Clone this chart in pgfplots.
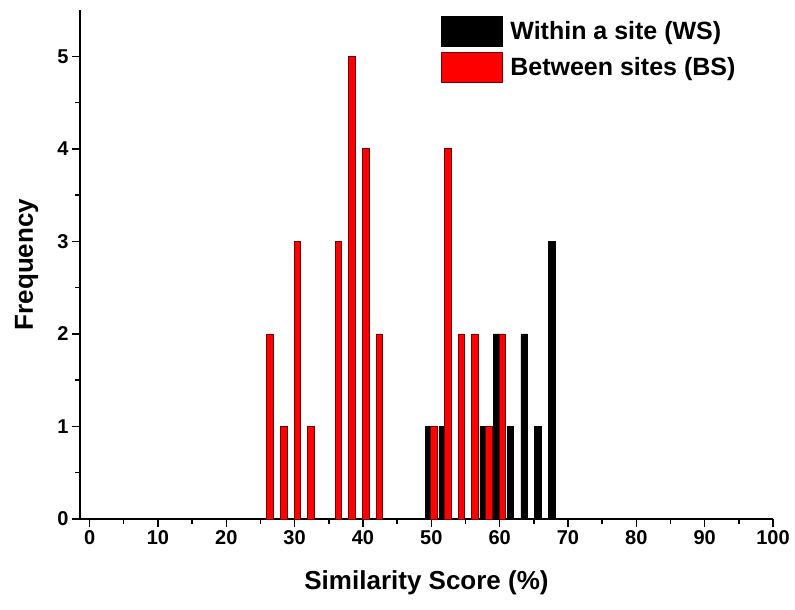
\documentclass[border=0pt]{standalone}
\usepackage{pgfplots}
\pgfplotsset{compat=1.18}
\usepackage{fontspec}
\setmainfont{Liberation Sans}
\definecolor{bsred}{RGB}{255,0,0}
\definecolor{bsedge}{RGB}{110,0,0}
\begin{document}
\begin{tikzpicture}
\begin{axis}[
scale only axis,
width=693pt,
height=509pt,
xmin=-1.4, xmax=100,
ymin=0, ymax=5.5,
axis x line*=bottom,
axis y line*=left,
axis line style={line width=1.5pt},
tick align=outside,
xtick={0,10,...,100},
ytick={0,1,...,5},
minor x tick num=1,
minor y tick num=1,
major tick length=8pt,
minor tick length=5pt,
every tick/.style={black, line width=1.5pt},
/pgf/number format/assume math mode=true,
ticklabel style={font=\bfseries\fontsize{20}{24}\selectfont},
xlabel={Similarity Score (\%)},
ylabel={Frequency},
label style={font=\bfseries\fontsize{26}{30}\selectfont},
xlabel style={at={(axis description cs:0.5,-0.126)}, anchor=center},
ylabel style={at={(axis description cs:-0.077,0.5)}, anchor=center},
legend image code/.code={\draw[#1] (0pt,-15pt) rectangle (61pt,15pt);},
legend style={draw=none, fill=none, at={(0.52,0.988)}, anchor=north west,
  inner sep=0pt, row sep=5pt,
  font=\bfseries\fontsize{25}{28}\selectfont,
  nodes={inner xsep=8pt, inner ysep=0pt}},
legend cell align=left,
clip=false,
]
% within a site (WS)
\addplot[ybar, bar width=6.5pt, bar shift=-2.75pt, fill=black, draw=black, line width=0.6pt]
coordinates {(50,1) (52,1) (58,1) (60,2) (62,1) (64,2) (66,1) (68,3)};
% between sites (BS)
\addplot[ybar, bar width=6.5pt, bar shift=2.75pt, fill=bsred, draw=bsedge, line width=0.8pt]
coordinates {(26,2) (28,1) (30,3) (32,1) (36,3) (38,5) (40,4) (42,2)
             (50,1) (52,4) (54,2) (56,2) (58,1) (60,2)};
\legend{Within a site (WS), Between sites (BS)}
\path (rel axis cs:0,0) ++(-80pt,-91pt);
\path (rel axis cs:1,1) ++(22pt,10pt);
\end{axis}
\end{tikzpicture}
\end{document}
